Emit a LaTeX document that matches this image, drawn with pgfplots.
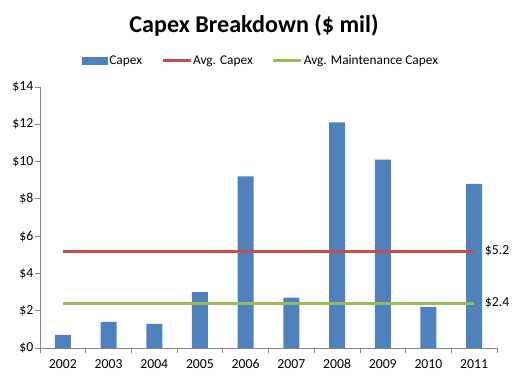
\documentclass[border=0pt]{standalone}
\usepackage{pgfplots}
\pgfplotsset{compat=1.18}
\usepackage{fontspec}
\setmainfont{Carlito}
\definecolor{cblue}{HTML}{4F81BD}
\definecolor{cred}{HTML}{C0504D}
\definecolor{cgreen}{HTML}{9BBB59}
\definecolor{caxis}{HTML}{868686}
\begin{document}
\begin{tikzpicture}
\useasboundingbox (-40bp,-33bp) rectangle (472bp,348bp);
\begin{axis}[
  scale only axis,
  width=457bp, height=261bp,
  xmin=-0.5, xmax=9.5,
  ymin=0, ymax=14,
  ytick={0,2,...,14},
  yticklabel={\$\pgfmathprintnumber{\tick}},
  xtick={0,...,9},
  xticklabels={2002,2003,2004,2005,2006,2007,2008,2009,2010,2011},
  minor xtick={-0.5,0.5,...,9.5},
  axis x line*=bottom,
  axis y line*=left,
  axis line style={caxis, line width=0.8bp, -},
  tick align=outside,
  major tick length=5bp,
  minor tick length=5bp,
  x tick style={draw=none},
  minor x tick style={draw=caxis, line width=0.8bp},
  y tick style={draw=caxis, line width=0.8bp},
  tick label style={font=\fontsize{13.8}{16}\selectfont, text=black},
  /pgf/number format/assume math mode=true,
  xticklabel style={yshift=-3bp},
  yticklabel style={inner sep=1.5bp},
  legend style={at={(0.483,1)}, yshift=26bp, anchor=center, draw=none,
    font=\fontsize{13.4}{16}\selectfont, inner sep=0pt,
    /tikz/every even column/.append style={column sep=18bp},
    nodes={inner sep=1bp}},
  legend columns=3,
  clip=false,
]
\addplot[ybar, bar width=16bp, fill=cblue, draw=none, bar shift=0pt,
  legend image code/.code={\fill[cblue] (0bp,-4bp) rectangle (26bp,4bp);}]
  coordinates {(0,0.7) (1,1.4) (2,1.3) (3,3.0) (4,9.2) (5,2.7) (6,12.1) (7,10.1) (8,2.2) (9,8.8)};
\addlegendentry{Capex}
\addplot[cred, line width=3bp,
  legend image code/.code={\draw[cred, line width=3bp] (0bp,0bp) -- (28bp,0bp);}]
  coordinates {(0,5.2) (9,5.2)} node[pos=1, right, xshift=6bp, text=black, font=\fontsize{13.8}{16}\selectfont] {\$5.2};
\addlegendentry{Avg. Capex}
\addplot[cgreen, line width=3bp,
  legend image code/.code={\draw[cgreen, line width=3bp] (0bp,0bp) -- (28bp,0bp);}]
  coordinates {(0,2.4) (9,2.4)} node[pos=1, right, xshift=6bp, text=black, font=\fontsize{13.8}{16}\selectfont] {\$2.4};
\addlegendentry{Avg. Maintenance Capex}
\end{axis}
\node[font=\bfseries\fontsize{24.2}{26}\selectfont, anchor=base] at (214bp,315bp) {Capex Breakdown (\$ mil)};
\end{tikzpicture}
\end{document}
